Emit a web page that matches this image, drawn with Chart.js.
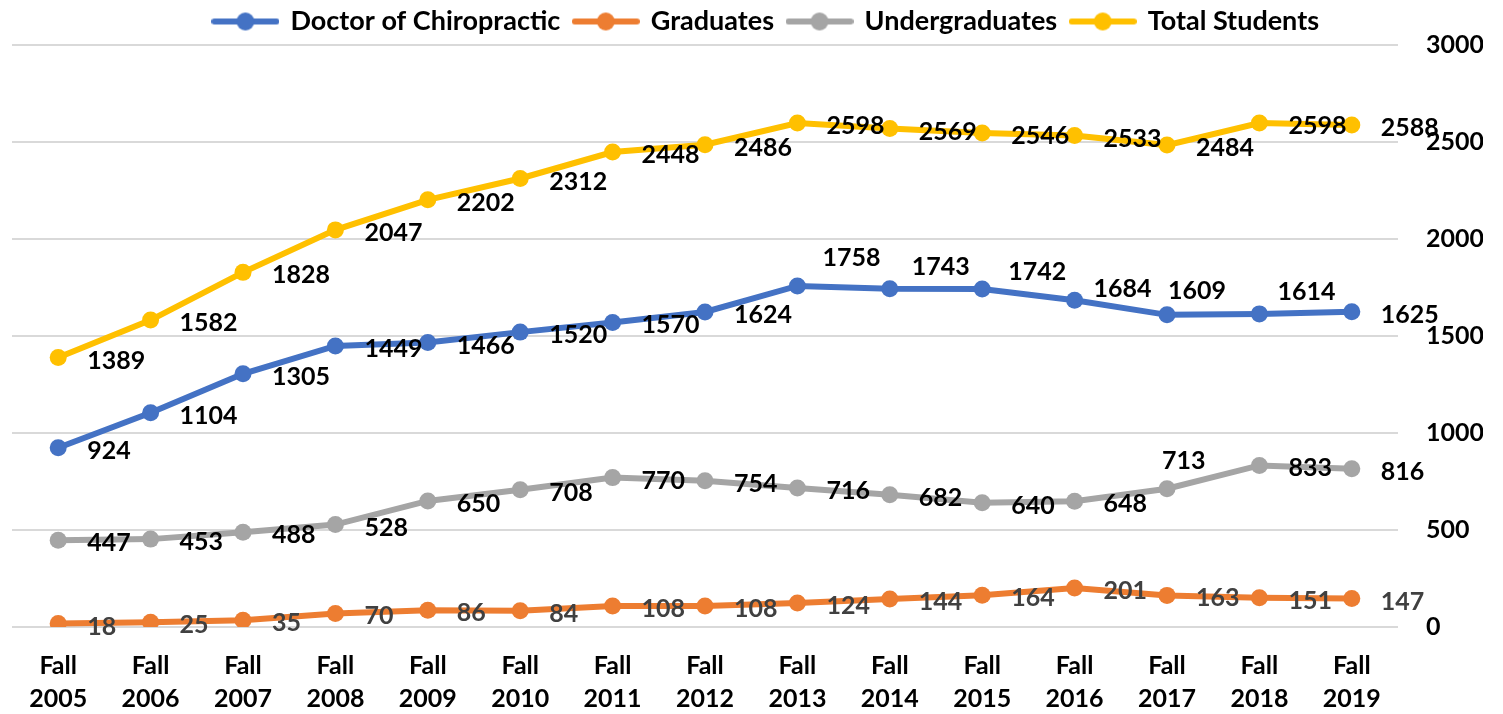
<!DOCTYPE html>
<html>
<head>
<meta charset="utf-8">
<script src="https://cdn.jsdelivr.net/npm/chart.js@4.4.0/dist/chart.umd.min.js"></script>
<style>
  body { margin: 0; background: #fff; }
  canvas { display: block; }
</style>
</head>
<body>
<canvas id="grafico" width="1503" height="714"></canvas>
<script>
var years = ['2005', '2006', '2007', '2008', '2009', '2010', '2011', '2012', '2013', '2014', '2015', '2016', '2017', '2018', '2019'];
var doctorOfChiropractic = [924, 1104, 1305, 1449, 1466, 1520, 1570, 1624, 1758, 1743, 1742, 1684, 1609, 1614, 1625];
var graduates = [18, 25, 35, 70, 86, 84, 108, 108, 124, 144, 164, 201, 163, 151, 147];
var undergraduates = [447, 453, 488, 528, 650, 708, 770, 754, 716, 682, 640, 648, 713, 833, 816];
var totalStudents = [1389, 1582, 1828, 2047, 2202, 2312, 2448, 2486, 2598, 2569, 2546, 2533, 2484, 2598, 2588];

var fuente = 'Lato, "Open Sans", sans-serif';

// desplazamientos de etiquetas que no van a la derecha del punto
var ajusteEtiqueta = {
    '0:8': [25, -28], '0:9': [22, -22], '0:10': [26, -17], '0:11': [19, -11],
    '0:12': [1, -24], '0:13': [18, -22],
    '2:12': [-5, -28]
};

function marcador(color) {
    var c = document.createElement('canvas');
    c.width = 68; c.height = 22;
    var g = c.getContext('2d');
    g.strokeStyle = color; g.lineWidth = 6; g.lineCap = 'round';
    g.beginPath(); g.moveTo(3, 11); g.lineTo(65, 11); g.stroke();
    g.fillStyle = color;
    g.beginPath(); g.arc(34, 11, 9, 0, Math.PI * 2); g.fill();
    return c;
}

var etiquetas = {
    id: 'etiquetas',
    afterLayout: function(chart) {
        // la leyenda del original no esta centrada del todo
        chart.legend.left += 19;
        chart.legend.right += 19;
    },
    afterDatasetsDraw: function(chart) {
        var ctx = chart.ctx;
        ctx.save();
        ctx.font = 'bold 25px ' + fuente;
        ctx.textAlign = 'left';
        ctx.textBaseline = 'middle';
        chart.data.datasets.forEach(function(ds, i) {
            var meta = chart.getDatasetMeta(i);
            ctx.fillStyle = ds.labelColor;
            meta.data.forEach(function(pt, j) {
                var d = ajusteEtiqueta[i + ':' + j] || [29, 3];
                ctx.fillText(ds.data[j], pt.x + d[0], pt.y + d[1]);
            });
        });
        ctx.restore();
    }
};

function serie(nombre, datos, color, textoColor) {
    return {
        label: nombre,
        data: datos,
        borderColor: color,
        backgroundColor: color,
        borderWidth: 6,
        pointRadius: 8.5,
        pointHoverRadius: 8.5,
        pointBorderWidth: 0,
        pointStyle: 'circle',
        tension: 0,
        labelColor: textoColor,
        marker: marcador(color)
    };
}

var ctx = document.getElementById('grafico');
var chart = new Chart(ctx, {
    type: 'line',
    data: {
        labels: years.map(function(y) { return ['Fall', y]; }),
        datasets: [
            serie('Doctor of Chiropractic', doctorOfChiropractic, '#4472C4', '#000000'),
            serie('Graduates', graduates, '#ED7D31', '#404040'),
            serie('Undergraduates', undergraduates, '#A5A5A5', '#000000'),
            serie('Total Students', totalStudents, '#FFC000', '#000000')
        ]
    },
    options: {
        responsive: false,
        animation: false,
        devicePixelRatio: 1,
        layout: { padding: { left: 12, right: 20, top: -6, bottom: 0 } },
        plugins: {
            tooltip: { enabled: false },
            legend: {
                position: 'top',
                labels: {
                    usePointStyle: true,
                    pointStyleWidth: 63,
                    padding: 14,
                    color: '#000',
                    font: { family: fuente, size: 27, weight: 'bold' },
                    generateLabels: function(chart) {
                        var items = Chart.defaults.plugins.legend.labels.generateLabels(chart);
                        items.forEach(function(it, i) {
                            it.pointStyle = chart.data.datasets[i].marker;
                        });
                        return items;
                    }
                }
            }
        },
        scales: {
            x: {
                offset: true,
                grid: { display: false },
                border: { display: false },
                ticks: {
                    color: '#000',
                    padding: 14,
                    maxRotation: 0,
                    autoSkip: false,
                    font: { family: fuente, size: 25, weight: 'bold', lineHeight: 1.32 }
                },
                afterFit: function(s) { s.height = 87; }
            },
            y: {
                position: 'right',
                min: 0,
                max: 3000,
                border: { display: false },
                grid: { color: '#D9D9D9', lineWidth: 2, drawTicks: false },
                ticks: {
                    stepSize: 500,
                    color: '#000',
                    padding: 28,
                    font: { family: fuente, size: 25, weight: 'bold' },
                    callback: function(v) { return String(v); }
                },
                afterFit: function(s) { s.width = 85; }
            }
        }
    },
    plugins: [etiquetas]
});
</script>
</body>
</html>
